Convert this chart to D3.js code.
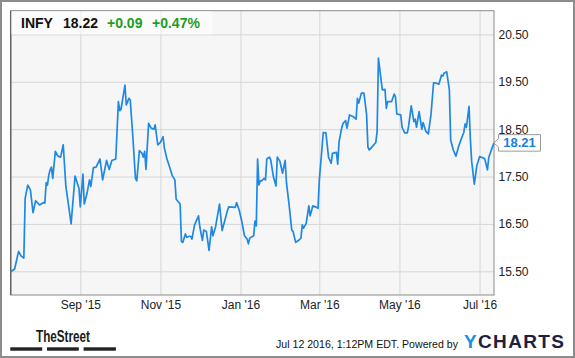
<!DOCTYPE html>
<html>
<head>
<meta charset="utf-8">
<script src="https://cdn.jsdelivr.net/npm/d3@7"></script>
<style>
html,body{margin:0;padding:0;background:#fff;}
svg{display:block;font-family:"Liberation Sans",Arial,sans-serif;}
</style>
</head>
<body>
<svg id="chart" width="575" height="358"></svg>
<script>
const dates = [
"2015-07-10","2015-07-13","2015-07-16","2015-07-18","2015-07-20","2015-07-21","2015-07-23","2015-07-25","2015-07-27","2015-07-29",
"2015-08-01","2015-08-04","2015-08-05","2015-08-06","2015-08-07","2015-08-08","2015-08-09","2015-08-10","2015-08-11","2015-08-13",
"2015-08-15","2015-08-17","2015-08-19","2015-08-21","2015-08-23","2015-08-25","2015-08-28","2015-08-31","2015-09-01","2015-09-03",
"2015-09-04","2015-09-06","2015-09-08","2015-09-09","2015-09-11","2015-09-13","2015-09-16","2015-09-18","2015-09-21","2015-09-23",
"2015-09-25","2015-09-28","2015-09-30","2015-10-01","2015-10-02","2015-10-05","2015-10-06","2015-10-08","2015-10-09","2015-10-11",
"2015-10-13","2015-10-14","2015-10-16","2015-10-18","2015-10-19","2015-10-20","2015-10-21","2015-10-23","2015-10-25","2015-10-27",
"2015-10-28","2015-10-30","2015-11-01","2015-11-03","2015-11-04","2015-11-06","2015-11-08","2015-11-10","2015-11-12","2015-11-13",
"2015-11-16","2015-11-17","2015-11-18","2015-11-20","2015-11-21","2015-11-23","2015-11-24","2015-11-25","2015-11-27","2015-11-30",
"2015-12-01","2015-12-03","2015-12-04","2015-12-06","2015-12-08","2015-12-10","2015-12-11","2015-12-13","2015-12-14","2015-12-16",
"2015-12-18","2015-12-20","2015-12-22","2015-12-23","2015-12-28","2015-12-29","2015-12-31","2016-01-02","2016-01-04","2016-01-06",
"2016-01-07","2016-01-08","2016-01-11","2016-01-12","2016-01-13","2016-01-14","2016-01-15","2016-01-16","2016-01-17","2016-01-19",
"2016-01-20","2016-01-21","2016-01-23","2016-01-24","2016-01-26","2016-01-28","2016-01-29","2016-01-31","2016-02-02","2016-02-04",
"2016-02-05","2016-02-07","2016-02-09","2016-02-10","2016-02-12","2016-02-14","2016-02-16","2016-02-17","2016-02-18","2016-02-20",
"2016-02-22","2016-02-23","2016-02-25","2016-02-27","2016-02-29","2016-03-01","2016-03-04","2016-03-06","2016-03-08","2016-03-10",
"2016-03-11","2016-03-14","2016-03-15","2016-03-16","2016-03-18","2016-03-19","2016-03-21","2016-03-22","2016-03-24","2016-03-27",
"2016-03-29","2016-03-30","2016-03-31","2016-04-02","2016-04-04","2016-04-06","2016-04-07","2016-04-08","2016-04-10","2016-04-13",
"2016-04-14","2016-04-15","2016-04-17","2016-04-18","2016-04-20","2016-04-21","2016-04-22","2016-04-25","2016-04-27","2016-04-28",
"2016-04-29","2016-05-02","2016-05-03","2016-05-05","2016-05-07","2016-05-08","2016-05-10","2016-05-12","2016-05-13","2016-05-14",
"2016-05-16","2016-05-18","2016-05-19","2016-05-21","2016-05-23","2016-05-25","2016-05-27","2016-05-29","2016-05-31","2016-06-02",
"2016-06-03","2016-06-04","2016-06-06","2016-06-08","2016-06-09","2016-06-11","2016-06-13","2016-06-15","2016-06-17","2016-06-19",
"2016-06-20","2016-06-21","2016-06-23","2016-06-24","2016-06-25","2016-06-27","2016-06-29","2016-07-01","2016-07-04","2016-07-05",
"2016-07-07","2016-07-08","2016-07-10","2016-07-12"
];
const prices = [
15.49,15.55,15.92,15.82,15.78,17.04,17.32,17.22,16.74,16.99,
16.90,16.95,16.94,17.37,17.32,17.53,17.64,17.70,17.46,18.03,
17.93,17.91,18.17,17.29,16.90,16.50,17.51,17.25,16.86,17.55,
16.92,17.13,17.43,17.29,17.69,17.70,17.87,17.43,17.84,17.65,
17.84,17.87,19.08,18.89,18.92,19.43,19.01,19.15,19.12,18.34,
17.46,17.41,18.05,17.99,17.91,18.03,17.65,18.62,18.52,18.50,
18.59,18.17,18.22,18.34,18.10,17.87,17.70,17.52,17.43,17.02,
16.92,16.13,16.11,16.29,16.22,16.24,16.24,16.18,16.48,16.67,
16.44,16.15,16.37,16.34,15.94,16.44,16.25,16.44,16.60,16.92,
16.36,16.57,16.78,16.86,16.85,16.95,16.79,16.55,16.25,16.18,
16.08,16.20,16.25,16.56,16.46,17.87,17.32,17.41,17.41,17.46,
17.43,17.87,17.91,17.85,17.50,17.30,17.91,17.82,17.57,17.84,
17.36,16.90,16.37,16.34,16.11,16.15,16.20,16.48,16.41,16.51,
16.88,16.67,16.88,16.86,16.83,17.43,18.43,18.42,17.91,17.78,
17.99,18.01,17.76,18.23,18.52,18.62,18.68,18.52,18.80,18.76,
18.71,19.15,19.05,19.26,19.26,18.80,18.12,18.06,18.12,18.22,
18.45,20.00,19.54,19.33,19.34,18.94,19.08,19.08,19.24,19.18,
18.82,18.80,18.54,18.42,18.42,18.57,18.99,18.66,18.71,18.54,
18.87,18.50,18.64,18.46,18.40,18.80,19.48,19.47,19.45,19.64,
19.62,19.68,19.71,19.33,18.27,18.06,17.93,18.13,18.29,18.43,
18.61,18.54,18.98,18.29,17.82,17.34,17.74,17.92,17.89,17.87,
17.64,17.90,18.06,18.21
];
const yTicks = [15.5, 16.5, 17.5, 18.5, 19.5, 20.5];
const xTickDates = ["2015-09-01","2015-11-01","2016-01-01","2016-03-01","2016-05-01","2016-07-01"];
const xTickLabels = ["Sep '15","Nov '15","Jan '16","Mar '16","May '16","Jul '16"];
const ticker = "INFY";
const lastPrice = "18.22";
const change = "+0.09";
const changePct = "+0.47%";
const lastLabel = "18.21";
const stamp = "Jul 12 2016, 1:12PM EDT. Powered by";

const parse = d3.timeParse("%Y-%m-%d");
const data = dates.map((d, i) => ({date: parse(d), value: prices[i]}));

const svg = d3.select("#chart");
const L = 10.7, R = 494, T = 10.7, B = 295;

const x = d3.scaleTime().domain([parse("2015-07-10"), parse("2016-07-12")]).range([L, R]);
const y = d3.scaleLinear().domain([15, 21]).range([B, T]);

// outer frame
svg.append("rect").attr("x", 1).attr("y", 1).attr("width", 573).attr("height", 356)
  .attr("fill", "#fff").attr("stroke", "#8c8c8c").attr("stroke-width", 2);

// plot background
svg.append("rect").attr("x", L).attr("y", T).attr("width", R - L).attr("height", B - T)
  .attr("fill", "#f6f6f6");

// x axis with gridlines
const xAxis = d3.axisBottom(x)
  .tickValues(xTickDates.map(parse))
  .tickFormat((d, i) => xTickLabels[i])
  .tickSize(-(B - T)).tickPadding(5.5);
const gx = svg.append("g").attr("transform", `translate(0,${B})`).call(xAxis);
gx.select(".domain").remove();
gx.selectAll(".tick line").attr("stroke", "#d6d6d6").attr("stroke-width", 1);
gx.selectAll(".tick text").attr("fill", "#222").style("font-size", "12px")
  .style("font-family", '"Liberation Sans",Arial,sans-serif');

// y axis on right with gridlines
const yAxis = d3.axisRight(y)
  .tickValues(yTicks)
  .tickFormat(d3.format(".2f"))
  .tickSize(-(R - L)).tickPadding(4.5);
const gy = svg.append("g").attr("transform", `translate(${R},0)`).call(yAxis);
gy.select(".domain").remove();
gy.selectAll(".tick line").attr("stroke", "#d6d6d6").attr("stroke-width", 1);
gy.selectAll(".tick text").attr("fill", "#222").style("font-size", "12px")
  .style("font-family", '"Liberation Sans",Arial,sans-serif');

// plot border
svg.append("rect").attr("x", L).attr("y", T).attr("width", R - L).attr("height", B - T)
  .attr("fill", "none").attr("stroke", "#8a8a8a").attr("stroke-width", 1);
svg.append("line").attr("x1", L).attr("x2", L).attr("y1", T).attr("y2", B)
  .attr("stroke", "#666").attr("stroke-width", 1.5);

// header box
svg.append("rect").attr("x", L + 0.5).attr("y", T + 0.5).attr("width", 212 - L).attr("height", 34 - T)
  .attr("fill", "rgba(255,255,255,0.55)");

// price line
const line = d3.line().x(d => x(d.date)).y(d => y(d.value));
svg.append("path").datum(data).attr("d", line)
  .attr("fill", "none").attr("stroke", "#1e88e5").attr("stroke-width", 1.7)
  .attr("stroke-linejoin", "round");

// header text
const headerItems = [
  {x: 21, text: ticker, fill: "#111"},
  {x: 63, text: lastPrice, fill: "#111"},
  {x: 107, text: change, fill: "#1f9d1f"},
  {x: 152, text: changePct, fill: "#1f9d1f"}
];
headerItems.forEach(h => svg.append("text").attr("x", h.x).attr("y", 28)
  .style("font-size", "14px").style("font-weight", "bold").attr("fill", h.fill).text(h.text));

// last value label
const last = data[data.length - 1];
const ly = y(last.value), lx = x(last.date);
const bx = lx + 4.5, bw = 42, bh = 16.5;
svg.append("path")
  .attr("d", `M${bx},${ly - bh / 2} H${bx + bw} V${ly + bh / 2} H${bx} V${ly + 4.3} L${lx},${ly} L${bx},${ly - 4.3} Z`)
  .attr("fill", "#fff").attr("stroke", "#9a9a9a").attr("stroke-width", 1);
svg.append("text").attr("x", bx + bw / 2).attr("y", ly + 4.5).attr("text-anchor", "middle")
  .style("font-size", "13px").style("font-weight", "bold").attr("fill", "#1a7fd9").text(lastLabel);

// footer: TheStreet logo
svg.append("text").attr("x", 36).attr("y", 341.7)
  .style("font-family", '"Liberation Sans Narrow","Arial Narrow","Liberation Sans",sans-serif')
  .style("font-size", "16px").style("font-weight", "bold").attr("fill", "#1a1a1a")
  .attr("textLength", 54).attr("lengthAdjust", "spacingAndGlyphs").text("TheStreet");
const barsX = [[10.3, 42.2], [47, 78.8], [83.6, 115.9]];
barsX.forEach(b => svg.append("rect").attr("x", b[0]).attr("y", 347.3).attr("width", b[1] - b[0]).attr("height", 3.4).attr("fill", "#222"));

// timestamp
svg.append("text").attr("x", 276).attr("y", 348).style("font-size", "11px").attr("fill", "#111")
  .attr("textLength", 182).attr("lengthAdjust", "spacingAndGlyphs").text(stamp);

// YCHARTS logo
const yc = svg.append("text").attr("x", 464).attr("y", 348.3).style("font-size", "19px")
  .style("font-weight", "bold").attr("textLength", 100).attr("lengthAdjust", "spacing");
yc.append("tspan").attr("fill", "#1b8fe3").text("Y");
yc.append("tspan").attr("fill", "#1c2140").text("CHARTS");
</script>
</body>
</html>
